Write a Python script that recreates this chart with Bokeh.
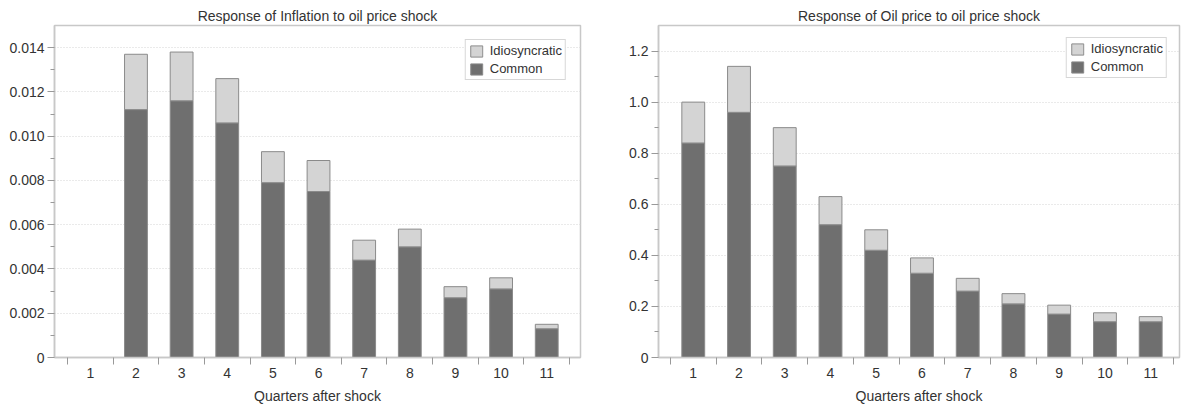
from bokeh.plotting import figure
from bokeh.models import ColumnDataSource, FixedTicker, Range1d, Legend, LegendItem
from bokeh.layouts import row
from bokeh.transform import stack
from bokeh.embed import file_html
from bokeh.resources import INLINE

quarters = [1, 2, 3, 4, 5, 6, 7, 8, 9, 10, 11]
x_labels = ["1", "2", "3", "4", "5", "6", "7", "8", "9", "10", "11"]

# Response of Inflation to oil price shock
infl_common = [0.0, 0.0112, 0.0116, 0.0106, 0.0079, 0.0075, 0.0044, 0.0050, 0.0027, 0.0031, 0.0013]
infl_idio = [0.0, 0.0025, 0.0022, 0.0020, 0.0014, 0.0014, 0.0009, 0.0008, 0.0005, 0.0005, 0.0002]
infl_ticks = [0, 0.002, 0.004, 0.006, 0.008, 0.010, 0.012, 0.014]
infl_tick_labels = ["0", "0.002", "0.004", "0.006", "0.008", "0.010", "0.012", "0.014"]
infl_minor = [0.001, 0.003, 0.005, 0.007, 0.009, 0.011, 0.013]

# Response of Oil price to oil price shock
oil_common = [0.84, 0.96, 0.75, 0.52, 0.42, 0.33, 0.26, 0.21, 0.17, 0.14, 0.14]
oil_idio = [0.16, 0.18, 0.15, 0.11, 0.08, 0.06, 0.05, 0.04, 0.035, 0.035, 0.02]
oil_ticks = [0, 0.2, 0.4, 0.6, 0.8, 1.0, 1.2]
oil_tick_labels = ["0", "0.2", "0.4", "0.6", "0.8", "1.0", "1.2"]
oil_minor = [0.1, 0.3, 0.5, 0.7, 0.9, 1.1]

x_minor = [0.5, 1.5, 2.5, 3.5, 4.5, 5.5, 6.5, 7.5, 8.5, 9.5, 10.5, 11.5]

FONT = "Liberation Sans"
TXT = "#333333"
FRAME = "#c8c8c8"
COMMON_C = "#6f6f6f"
IDIO_C = "#d4d4d4"
EDGE = "#8a8a8a"


def make(title, common, idio, ticks, labels, minor, ymax, xr, width, bl, br, lmargin):
    src = ColumnDataSource(dict(q=quarters, common=common, idio=idio))
    p = figure(width=width, height=406, output_backend="svg", toolbar_location=None,
               x_range=Range1d(*xr), y_range=Range1d(0, ymax),
               min_border_left=bl, min_border_right=br, min_border_top=25, min_border_bottom=48)
    p.title.text = title
    p.title.align = "center"
    p.title.text_font = FONT
    p.title.text_font_size = "14px"
    p.title.text_font_style = "normal"
    p.title.text_color = TXT
    p.title.standoff = 4
    p.title.offset = 0

    r_common = p.vbar(x="q", width=0.5, bottom=0, top="common", source=src,
                      fill_color=COMMON_C, line_color=EDGE, line_width=1)
    r_idio = p.vbar(x="q", width=0.5, bottom=stack("common"), top=stack("common", "idio"), source=src,
                    fill_color=IDIO_C, line_color=EDGE, line_width=1)

    p.outline_line_color = FRAME
    p.outline_line_width = 1.5
    p.xgrid.visible = False
    p.ygrid.ticker = FixedTicker(ticks=ticks)
    p.ygrid.grid_line_color = "#d4d4d4"
    p.ygrid.grid_line_dash = "1 2"
    p.ygrid.grid_line_width = 1

    xa = p.xaxis[0]
    xa.ticker = FixedTicker(ticks=quarters, minor_ticks=x_minor)
    xa.major_label_overrides = {q: l for q, l in zip(quarters, x_labels)}
    xa.major_tick_line_color = None
    xa.minor_tick_line_color = "#999999"
    xa.minor_tick_in = 0
    xa.minor_tick_out = 7
    xa.axis_line_color = FRAME
    xa.axis_line_width = 1.5
    xa.axis_label = "Quarters after shock"
    xa.axis_label_text_font = FONT
    xa.axis_label_text_font_size = "14px"
    xa.axis_label_text_font_style = "normal"
    xa.axis_label_text_color = TXT
    xa.axis_label_standoff = 7
    xa.major_label_text_font = FONT
    xa.major_label_text_font_size = "14px"
    xa.major_label_text_color = TXT
    xa.major_label_standoff = 3

    ya = p.yaxis[0]
    ya.ticker = FixedTicker(ticks=ticks, minor_ticks=minor)
    ya.major_label_overrides = {t: l for t, l in zip(ticks, labels)}
    ya.major_tick_line_color = "#999999"
    ya.major_tick_in = 0
    ya.major_tick_out = 7
    ya.minor_tick_line_color = "#999999"
    ya.minor_tick_in = 0
    ya.minor_tick_out = 4
    ya.axis_line_color = FRAME
    ya.axis_line_width = 1.5
    ya.major_label_text_font = FONT
    ya.major_label_text_font_size = "14px"
    ya.major_label_text_color = TXT
    ya.major_label_standoff = 3

    legend = Legend(items=[LegendItem(label="Idiosyncratic", renderers=[r_idio]),
                           LegendItem(label="Common", renderers=[r_common])],
                    location="top_right")
    legend.label_text_font = FONT
    legend.label_text_font_size = "13px"
    legend.label_text_color = TXT
    legend.border_line_color = "#b0b0b0"
    legend.border_line_width = 1.5
    legend.glyph_width = 15
    legend.glyph_height = 14
    legend.label_height = 14
    legend.label_standoff = 6
    legend.spacing = 3
    legend.padding = 3
    legend.margin = lmargin
    legend.background_fill_alpha = 1
    p.add_layout(legend)
    return p


p1 = make("Response of Inflation to oil price shock", infl_common, infl_idio,
          infl_ticks, infl_tick_labels, infl_minor, 0.015, (0.215, 11.74), 600, 54, 20, 14)
p2 = make("Response of Oil price to oil price shock", oil_common, oil_idio,
          oil_ticks, oil_tick_labels, oil_minor, 1.3, (0.24, 11.63), 582, 58, 3, 12)

layout = row(p1, p2, spacing=0)
open("out.html", "w").write(file_html(layout, INLINE))
